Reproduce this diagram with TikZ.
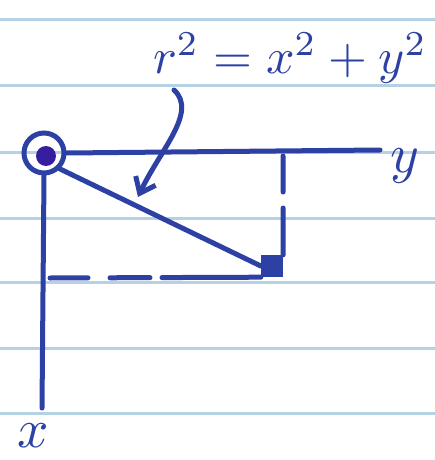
\documentclass[tikz,border=0pt]{standalone}
\usepackage{graphicx}
\usetikzlibrary{arrows.meta}
\definecolor{pen}{RGB}{45,65,165}
\definecolor{ink}{RGB}{55,30,160}
\definecolor{paperrule}{RGB}{180,210,228}
\newcommand{\bigtxt}[1]{\scalebox{5.5}{#1}}
\begin{document}
\begin{tikzpicture}[x=1pt,y=-1pt,
  penline/.style={draw=pen,line width=5pt,line cap=round},
  ruleline/.style={draw=paperrule,line width=3pt},
  lbl/.style={text=pen,inner sep=0pt}]
\useasboundingbox[fill=white] (0,0) rectangle (435,460);
\foreach \yy in {20,85,152,218,282,348,413} \draw[ruleline] (0,\yy) -- (435,\yy);
% origin
\node[circle,draw=pen,line width=5pt,minimum size=40pt,inner sep=0pt] (O) at (44,153) {};
\node[circle,fill=ink,minimum size=20pt,inner sep=0pt] (dot) at (46,156) {};
\coordinate (Yend) at (380,150);
\coordinate (Xend) at (42,408);
\draw[penline] (O.east) -- (Yend);
\draw[penline] (O.south) -- (Xend);
\node[lbl] (ylab) at (405,166) {\bigtxt{$y$}};
\node[lbl] (xlab) at (33,436) {\bigtxt{$x$}};
% point
\node[fill=pen,minimum size=22pt,inner sep=0pt] (P) at (272,266) {};
\draw[penline] (O.south east) -- (P.west);
\coordinate (Hstart) at (50,278);
\draw[penline,dash pattern=on 38pt off 22pt on 40pt off 12pt on 120pt] (Hstart) -- (P.south west);
\coordinate (Vstart) at (283,156);
\draw[penline,dash pattern=on 36pt off 16pt on 80pt] (Vstart) -- (P.north east);
% equation and arrow
\node[lbl,anchor=base] (eq) at (290,74) {\scalebox{5}{$r^2=x^2+y^2$}};
\coordinate (Astart) at (174,90);
\coordinate (Aend) at (138,197);
\draw[penline,-{Straight Barb[length=14pt,width=22pt]}] (Astart) .. controls (198,112) and (160,150) .. (Aend);
\end{tikzpicture}
\end{document}
